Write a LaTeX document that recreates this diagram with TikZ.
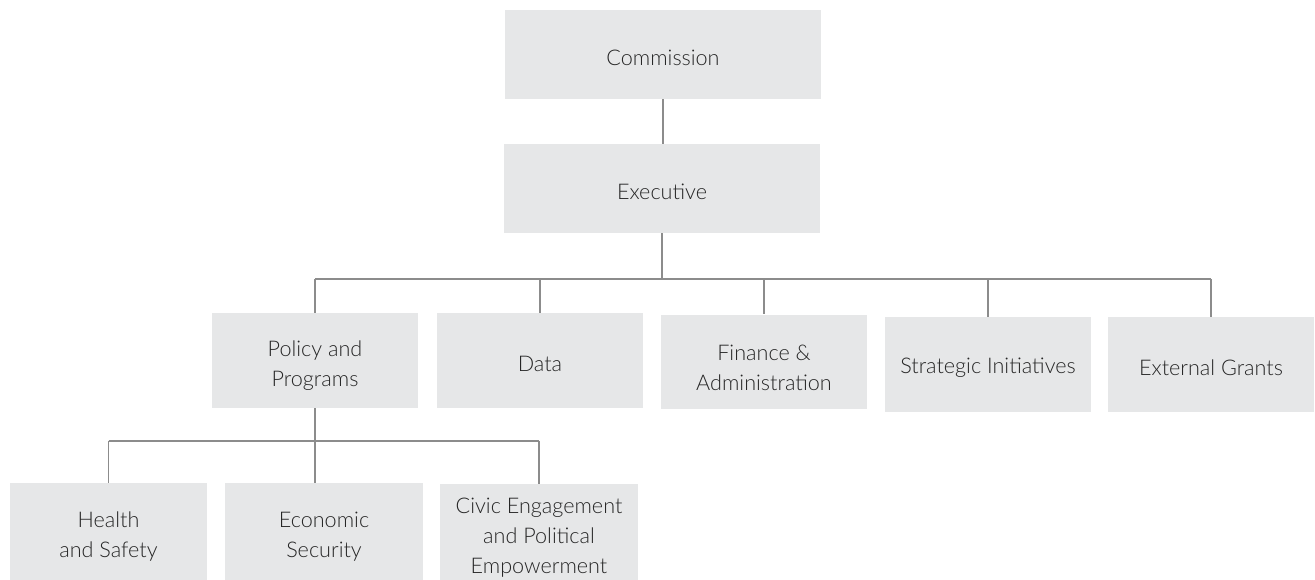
\documentclass[tikz,border=0pt]{standalone}
\usepackage{fontspec}
\setmainfont{Lato}[UprightFont=* Light]
\usetikzlibrary{positioning}
\definecolor{boxfill}{HTML}{E6E7E8}
\definecolor{linie}{HTML}{8C8C8C}
\definecolor{schrift}{HTML}{262626}
\newcommand\oben{\rule{0pt}{15pt}}
\tikzset{
  unit/.style={fill=boxfill,text=schrift,align=center,inner sep=0pt,
    font=\fontsize{12.3}{17}\selectfont,
    execute at begin node={\rule{0pt}{13pt}}},
  topbox/.style={unit,minimum width=6.32cm,minimum height=1.78cm},
  deptbox/.style={unit,minimum width=4.12cm,minimum height=1.9cm},
  subbox/.style={unit,minimum width=3.96cm,minimum height=1.94cm},
  link/.style={linie,line width=1.1pt},
}
\begin{document}
\begin{tikzpicture}[x=0.02cm,y=-0.02cm]
  \useasboundingbox (0,0) rectangle (1315,580);
  % --- Leitung ---
  \node[topbox] (commission) at (663,54.5) {Commission};
  \node[topbox] (exec) at (662,188.5) {Executive};
  % --- Abteilungen ---
  \node[deptbox] (policy) at (315,360.5) {\oben Policy and\\Programs};
  \node[deptbox] (data) at (540,360.5) {Data};
  \node[deptbox] (finance) at (764,362) {\oben Finance \&\\Administration};
  \node[deptbox] (strategic) at (988,364.5) {Strategic Initiatives};
  \node[deptbox] (external) at (1211,364.5) {External Grants};
  % --- Programme ---
  \node[subbox] (health) at (108.5,531.5) {\oben Health\\and Safety};
  \node[subbox] (economic) at (324,531.5) {\oben Economic\\Security};
  \node[subbox] (civic) at (539,532.5) {\oben Civic Engagement\\and Political\\Empowerment};
  % --- Verbindungen ---
  \coordinate (bus1) at (0,279);
  \coordinate (bus2) at (0,441);
  \draw[link] (commission.south) -- (exec.north -| commission.south);
  \draw[link] (exec.south) -- (bus1 -| exec.south);
  \draw[link] (bus1 -| policy.north) -- (bus1 -| external.north);
  \foreach \n in {policy,data,finance,strategic,external}
    \draw[link] (bus1 -| \n.north) -- (\n.north);
  \draw[link] (policy.south) -- (bus2 -| policy.south);
  \draw[link] (bus2 -| health.north) -- (bus2 -| civic.north);
  \draw[link] (bus2 -| health.north) -- (health.north);
  \draw[link] (bus2 -| policy.south) -- (economic.north -| policy.south);
  \draw[link] (bus2 -| civic.north) -- (civic.north);
\end{tikzpicture}
\end{document}
